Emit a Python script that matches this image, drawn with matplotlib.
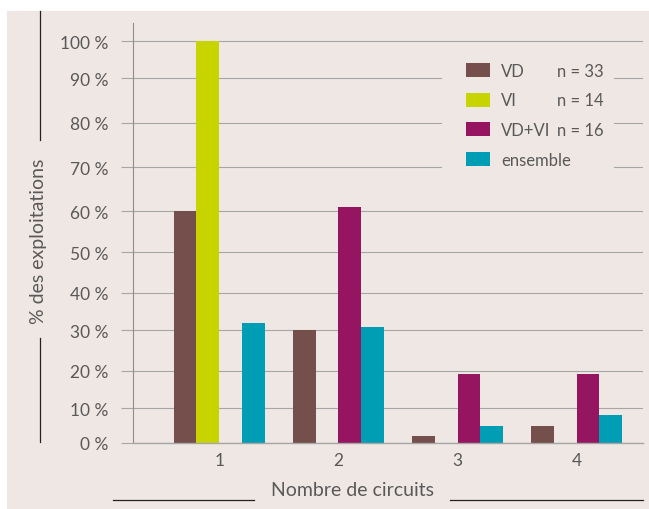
import numpy as np
import matplotlib
matplotlib.use("Agg")
import matplotlib.pyplot as plt
from matplotlib.patches import Rectangle
from matplotlib.lines import Line2D

plt.rcParams["font.family"] = ["Lato", "DejaVu Sans"]

# ---- data -------------------------------------------------------------
circuits = ["1", "2", "3", "4"]
series_names = ["VD", "VI", "VD+VI", "ensemble"]
series_n = ["n = 33", "n = 14", "n = 16", ""]
vd = [60, 30, 2, 5]
vi = [100, 0, 0, 0]
vd_vi = [0, 61, 19, 19]
ensemble = [32, 31, 5, 8]
y_ticks = [0, 10, 20, 30, 40, 50, 60, 70, 80, 90, 100]
y_tick_labels = [f"{v} %" for v in y_ticks]

# ---- style ------------------------------------------------------------
colors = ["#744F4B", "#C8D400", "#961560", "#009EB4"]
BG = "#EFE7E4"
TEXT = "#595959"
GRID = "#A6A6A6"

# uneven vertical spacing of the percentage axis (height above baseline, px)
scale_vals = y_ticks + [120]
scale_h = [0, 34.4, 72, 112.4, 150, 190.4, 231.4, 275.4, 320, 364.4, 401.4, 475.4]


def fwd(v):
    return np.interp(v, scale_vals, scale_h)


def inv(h):
    return np.interp(h, scale_h, scale_vals)


W, H = 649, 510
fig = plt.figure(figsize=(W / 100, H / 100), dpi=100)
fig.patch.set_facecolor("white")


def fx(x):
    return x / W


def fy(y):
    return 1 - y / H


# background panel
fig.patches.append(Rectangle((fx(7), 0), 1 - fx(7), fy(12), transform=fig.transFigure,
                             facecolor=BG, edgecolor="none", zorder=-1))

ax = fig.add_axes([fx(132.7), fy(443.7), (642.7 - 132.7) / W, (443.7 - 24) / H])
ax.set_zorder(1)
ax.set_facecolor("none")
ax.set_yscale("function", functions=(fwd, inv))

x = np.arange(1, len(circuits) + 1)
width = 0.193
offsets = [-1.5, -0.5, 0.5, 1.5]
handles = []
for vals, col, off in zip([vd, vi, vd_vi, ensemble], colors, offsets):
    bc = ax.bar(x + off * width, vals, width, color=col, linewidth=0, zorder=2)
    handles.append(bc)

ax.set_xlim(0.271, 4.556)
ax.set_ylim(0, 105)
ax.set_xticks(x, circuits)
ax.set_yticks(y_ticks, y_tick_labels)
ax.minorticks_off()

for s in ["top", "right"]:
    ax.spines[s].set_visible(False)
ax.spines["left"].set_color("#8C8C8C")
ax.spines["left"].set_linewidth(0.8)
ax.spines["bottom"].set_color(GRID)
ax.spines["bottom"].set_linewidth(1.0)
ax.spines["bottom"].set_zorder(3)

ax.tick_params(axis="y", length=8.6, width=0.8, color=GRID, pad=9,
               labelsize=12.5, labelcolor=TEXT)
ax.tick_params(axis="x", length=0, pad=6.5, labelsize=12.5, labelcolor=TEXT)
ax.yaxis.grid(True, color=GRID, linewidth=0.8)
ax.set_axisbelow(True)

# plain area behind the legend
ax.add_patch(Rectangle((fx(442), fy(182)), (614 - 442) / W, (182 - 52) / H,
                       transform=fig.transFigure, facecolor=BG, edgecolor="none",
                       zorder=1))

leg = ax.legend(handles, series_names, loc="upper left",
                bbox_to_anchor=(fx(466), fy(64)), bbox_transform=fig.transFigure,
                frameon=False, borderpad=0, borderaxespad=0,
                handlelength=1.44, handleheight=0.92, handletextpad=0.66,
                labelspacing=0.81, fontsize=12, labelcolor=TEXT)
for txt, n in zip(leg.get_texts(), series_n):
    if n:
        ax.annotate(n, xy=(fx(557), 0.5), xycoords=(fig.transFigure, txt),
                    ha="left", va="center", fontsize=12, color=TEXT, zorder=6)

# axis titles
fig.text(fx(352.5), fy(496), "Nombre de circuits", ha="center", va="baseline",
         fontsize=14, color=TEXT)
fig.text(fx(39), fy(241), "% des exploitations", ha="center", va="center",
         rotation=90, fontsize=14, color=TEXT)

# decorative rules around the axis titles
for (x0, y0, x1, y1) in [(40.3, 12, 40.3, 141), (40.3, 339, 40.3, 443),
                         (112.7, 500.7, 254, 500.7), (450, 500.7, 642.7, 500.7)]:
    fig.add_artist(Line2D([fx(x0), fx(x1)], [fy(y0), fy(y1)], color="#222222",
                          linewidth=0.9, transform=fig.transFigure))

fig.savefig("out.png", dpi=100)
